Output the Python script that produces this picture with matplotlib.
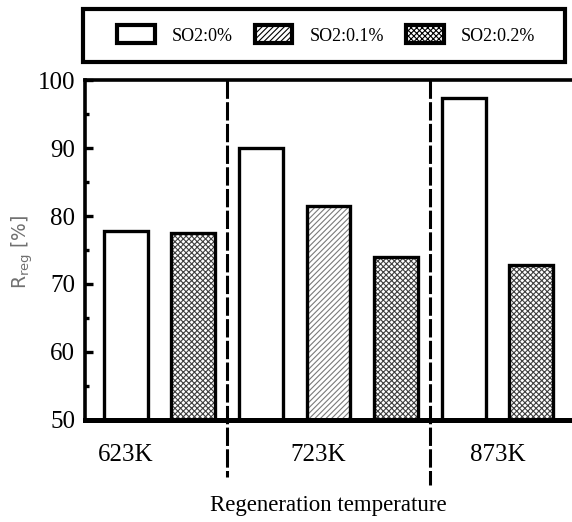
import numpy as np
import matplotlib
matplotlib.use('Agg')
from matplotlib import pyplot as plt
from matplotlib.patches import Patch, Rectangle
from matplotlib.ticker import MultipleLocator

categories = ['623K', '723K', '873K']
series = ['SO2:0%', 'SO2:0.1%', 'SO2:0.2%']
r_so2_0 = [77.8, 90.0, 97.4]
r_so2_01 = [None, 81.5, None]
r_so2_02 = [77.5, 73.9, 72.8]

plt.rcParams['font.family'] = ['Liberation Serif', 'DejaVu Serif']
plt.rcParams['hatch.linewidth'] = 0.8

styles = [
    dict(hatch=None, hcolor='white'),
    dict(hatch='//////', hcolor='#7a7a7a'),
    dict(hatch='xxxxxx', hcolor='#404040'),
]

fig = plt.figure(figsize=(5.72, 5.22), dpi=100)
ax = fig.add_axes([85 / 572, 102 / 522, 487 / 572, 340 / 522])

width = 0.65
pos = 0
dividers = []
values = [r_so2_0, r_so2_01, r_so2_02]
for ci, cat in enumerate(categories):
    for si in range(len(series)):
        v = values[si][ci]
        if v is None:
            continue
        st = styles[si]
        if st['hatch']:
            ax.bar(pos, v - 50, width, bottom=50, color='white',
                   edgecolor=st['hcolor'], hatch=st['hatch'], linewidth=0)
        ax.bar(pos, v - 50, width, bottom=50, fill=False,
               edgecolor='black', linewidth=2.4)
        pos += 1
    if ci < len(categories) - 1:
        dividers.append(pos - 0.5)

for d, low in zip(dividers, [41.6, 40.4]):
    ax.plot([d, d], [100, low], color='black', lw=2.2, dashes=(6, 1.1),
            clip_on=False)

label_pos = [0.0, 2.85, 5.5]
for x, lab in zip(label_pos, categories):
    ax.text(x, 44.8, lab, ha='center', va='center', fontsize=18)

ax.set_xlim(-0.6, 6.6)
ax.set_ylim(50, 100)
ax.set_xticks([])
ax.yaxis.set_major_locator(MultipleLocator(10))
ax.yaxis.set_minor_locator(MultipleLocator(5))
ax.tick_params(axis='y', which='major', direction='in', length=6, width=2.4,
               labelsize=18, pad=7)
ax.tick_params(axis='y', which='minor', direction='in', length=3, width=2.4)
ax.spines['right'].set_visible(False)
ax.spines['left'].set_linewidth(2.6)
ax.spines['top'].set_linewidth(2.6)
ax.spines['bottom'].set_linewidth(3.6)

ax.set_xlabel('Regeneration temperature', fontsize=16.5, labelpad=54)
fig.text(22 / 572, 1 - 252 / 522, r'$\mathregular{R_{reg}}$ [%]',
         rotation=90, ha='center', va='center', fontsize=13.5,
         color='#707070', family='DejaVu Sans')

# legend frame
fig.patches.append(Rectangle((83 / 572, 1 - 62 / 522), 482 / 572, 53 / 522,
                             transform=fig.transFigure, fill=False,
                             edgecolor='black', linewidth=3))
handles = []
for si, s in enumerate(series):
    st = styles[si]
    handles.append(Patch(facecolor='white', edgecolor='black', linewidth=3,
                         hatch=st['hatch'], label=s))
fig.legend(handles=handles, loc='center', bbox_to_anchor=(326 / 572, 1 - 35 / 522),
           ncol=3, frameon=False, fontsize=13, handlelength=2.1,
           handleheight=1.15, handletextpad=0.95, columnspacing=1.2)

fig.savefig('out.png', dpi=100)
